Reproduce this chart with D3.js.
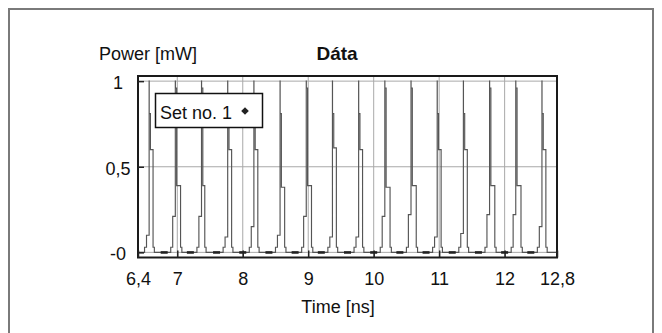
<!DOCTYPE html>
<html>
<head>
<meta charset="utf-8">
<script src="https://d3js.org/d3.v7.min.js"></script>
<style>
	body { margin: 0; background: #fff; }
	svg { display: block; font-family: "Liberation Sans", Arial, sans-serif; }
</style>
</head>
<body>
<div id="mainWrapper"><svg width="662" height="333"></svg></div>
<script>

// Set no. 1  [time ns, power mW] (one pulse per row)
var set1 = [
	[6.4, 0],
	[6.50,0.03],[6.53,0.10],[6.57,1],[6.571,0.81],[6.59,0.60],[6.63,0.03],[6.65,0],
	[6.90,0.03],[6.93,0.21],[6.97,1],[6.971,0.96],[6.99,0.39],[7.05,0.03],[7.07,0],
	[7.30,0.03],[7.33,0.21],[7.37,1],[7.371,0.96],[7.39,0.39],[7.42,0.03],[7.44,0],
	[7.70,0.03],[7.73,0.09],[7.77,1],[7.771,0.81],[7.79,0.60],[7.83,0.03],[7.85,0],
	[8.10,0.03],[8.13,0.15],[8.17,1],[8.171,0.81],[8.19,0.60],[8.23,0.03],[8.25,0],
	[8.50,0.03],[8.53,0.10],[8.57,1],[8.571,0.81],[8.59,0.38],[8.64,0.03],[8.66,0],
	[8.90,0.03],[8.93,0.21],[8.97,1],[8.971,0.96],[8.99,0.39],[9.05,0.03],[9.07,0],
	[9.30,0.03],[9.33,0.09],[9.37,1],[9.371,0.81],[9.39,0.61],[9.43,0.03],[9.45,0],
	[9.70,0.03],[9.73,0.09],[9.77,1],[9.771,0.81],[9.79,0.60],[9.83,0.03],[9.85,0],
	[10.10,0.03],[10.13,0.21],[10.17,1],[10.171,0.96],[10.19,0.38],[10.25,0.03],[10.27,0],
	[10.50,0.03],[10.53,0.22],[10.57,1],[10.571,0.96],[10.59,0.39],[10.65,0.03],[10.67,0],
	[10.90,0.03],[10.93,0.09],[10.97,1],[10.971,0.81],[10.99,0.60],[11.03,0.03],[11.05,0],
	[11.30,0.03],[11.33,0.11],[11.37,1],[11.371,0.81],[11.39,0.60],[11.43,0.03],[11.45,0],
	[11.70,0.03],[11.73,0.22],[11.77,1],[11.771,0.96],[11.79,0.39],[11.85,0.03],[11.87,0],
	[12.10,0.03],[12.13,0.22],[12.17,1],[12.171,0.96],[12.19,0.39],[12.25,0.03],[12.27,0],
	[12.50,0.03],[12.53,0.15],[12.57,1],[12.571,0.81],[12.59,0.60],[12.63,0.03],[12.65,0],
	[12.8, 0]
];

// markers sitting on the baseline between pulses
var markerTimes = [6.8, 7.2, 7.6, 8.0, 8.4, 8.8, 9.2, 9.6, 10.0, 10.4, 10.8, 11.2, 11.6, 12.0, 12.4];
var markerPower = 0;

var xTicks = [6.4, 7, 8, 9, 10, 11, 12, 12.8];
var xTickLabels = ["6,4", "7", "8", "9", "10", "11", "12", "12,8"];
var xGrid = [7, 8, 9, 10, 11, 12];
var yTicks = [0, 0.5, 1];
var yTickLabels = ["-0", "0,5", "1"];

var svg = d3.select("#mainWrapper>svg");

var plotL = 138, plotR = 557, plotT = 76, plotB = 257.5;

var x = d3.scaleLinear().domain([6.4, 12.8]).range([plotL, plotR]);
var y = d3.scaleLinear().domain([-0.03, 1.03]).range([plotB, plotT]);

// outer frame
svg.append("rect")
	.attr("x", 9).attr("y", 9)
	.attr("width", 644).attr("height", 340)
	.attr("fill", "none")
	.attr("stroke", "#7a7a7a")
	.attr("stroke-width", 2);

// grid
var grid = svg.append("g").attr("stroke", "#a9a9a9").attr("stroke-width", 1);
grid.selectAll("line.h")
	.data(yTicks)
	.enter()
	.append("line")
	.attr("class", "h")
	.attr("x1", plotL).attr("x2", plotR)
	.attr("y1", function(d){ return y(d); })
	.attr("y2", function(d){ return y(d); });
grid.selectAll("line.v")
	.data(xGrid)
	.enter()
	.append("line")
	.attr("class", "v")
	.attr("y1", plotT).attr("y2", plotB)
	.attr("x1", function(d){ return x(d); })
	.attr("x2", function(d){ return x(d); });

// series line
var line = d3.line()
	.x(function(d){ return x(d[0]); })
	.y(function(d){ return y(d[1]); })
	.curve(d3.curveStepAfter);

svg.append("path")
	.datum(set1)
	.attr("d", line)
	.attr("fill", "none")
	.attr("stroke", "#555")
	.attr("stroke-width", 1.15);

// markers
svg.selectAll("rect.mk")
	.data(markerTimes)
	.enter()
	.append("rect")
	.attr("class", "mk")
	.attr("x", function(d){ return x(d) - 3.5; })
	.attr("y", y(markerPower) - 1.2)
	.attr("width", 7)
	.attr("height", 2.6)
	.attr("fill", "#222");

// plot frame
svg.append("rect")
	.attr("x", plotL).attr("y", plotT)
	.attr("width", plotR - plotL).attr("height", plotB - plotT)
	.attr("fill", "none")
	.attr("stroke", "#1a1a1a")
	.attr("stroke-width", 2);

// axes
var xAxis = d3.axisBottom(x)
	.tickValues(xTicks)
	.tickSize(-7)
	.tickPadding(15)
	.tickFormat(function(d, i){ return xTickLabels[i]; });

var gx = svg.append("g")
	.attr("transform", "translate(0," + plotB + ")")
	.call(xAxis);

var yAxis = d3.axisLeft(y)
	.tickValues(yTicks)
	.tickSize(-6)
	.tickPadding(20)
	.tickFormat(function(d, i){ return yTickLabels[i]; });

var gy = svg.append("g")
	.attr("transform", "translate(" + plotL + ",0)")
	.call(yAxis);

[gx, gy].forEach(function(g){
	g.select(".domain").remove();
	g.attr("font-family", null).attr("font-size", 18);
	g.selectAll(".tick line").attr("stroke", "#222").attr("stroke-width", 1.5);
	g.selectAll(".tick text").attr("fill", "#111");
});
gy.selectAll(".tick text")
	.attr("text-anchor", "middle")
	.attr("dy", "0.42em");

// labels
svg.append("text")
	.attr("x", 99).attr("y", 60)
	.attr("font-size", 18)
	.attr("fill", "#111")
	.text("Power [mW]");

svg.append("text")
	.attr("x", 337).attr("y", 60)
	.attr("text-anchor", "middle")
	.attr("font-size", 19)
	.attr("font-weight", "bold")
	.attr("fill", "#111")
	.text("Dáta");

svg.append("text")
	.attr("x", 338).attr("y", 313)
	.attr("text-anchor", "middle")
	.attr("font-size", 18)
	.attr("fill", "#111")
	.text("Time [ns]");

// legend
var legend = svg.append("g");
legend.append("rect")
	.attr("x", 155.5).attr("y", 93.5)
	.attr("width", 107).attr("height", 34)
	.attr("fill", "#fff")
	.attr("stroke", "#111")
	.attr("stroke-width", 1.5);
legend.append("text")
	.attr("x", 160).attr("y", 119)
	.attr("font-size", 18)
	.attr("fill", "#111")
	.text("Set no. 1");
// diamond (square turned 45deg)
legend.append("path")
	.attr("d", "M0,-3.8L3.8,0L0,3.8L-3.8,0Z")
	.attr("transform", "translate(245,111)")
	.attr("fill", "#222");

</script>
</body>
</html>
